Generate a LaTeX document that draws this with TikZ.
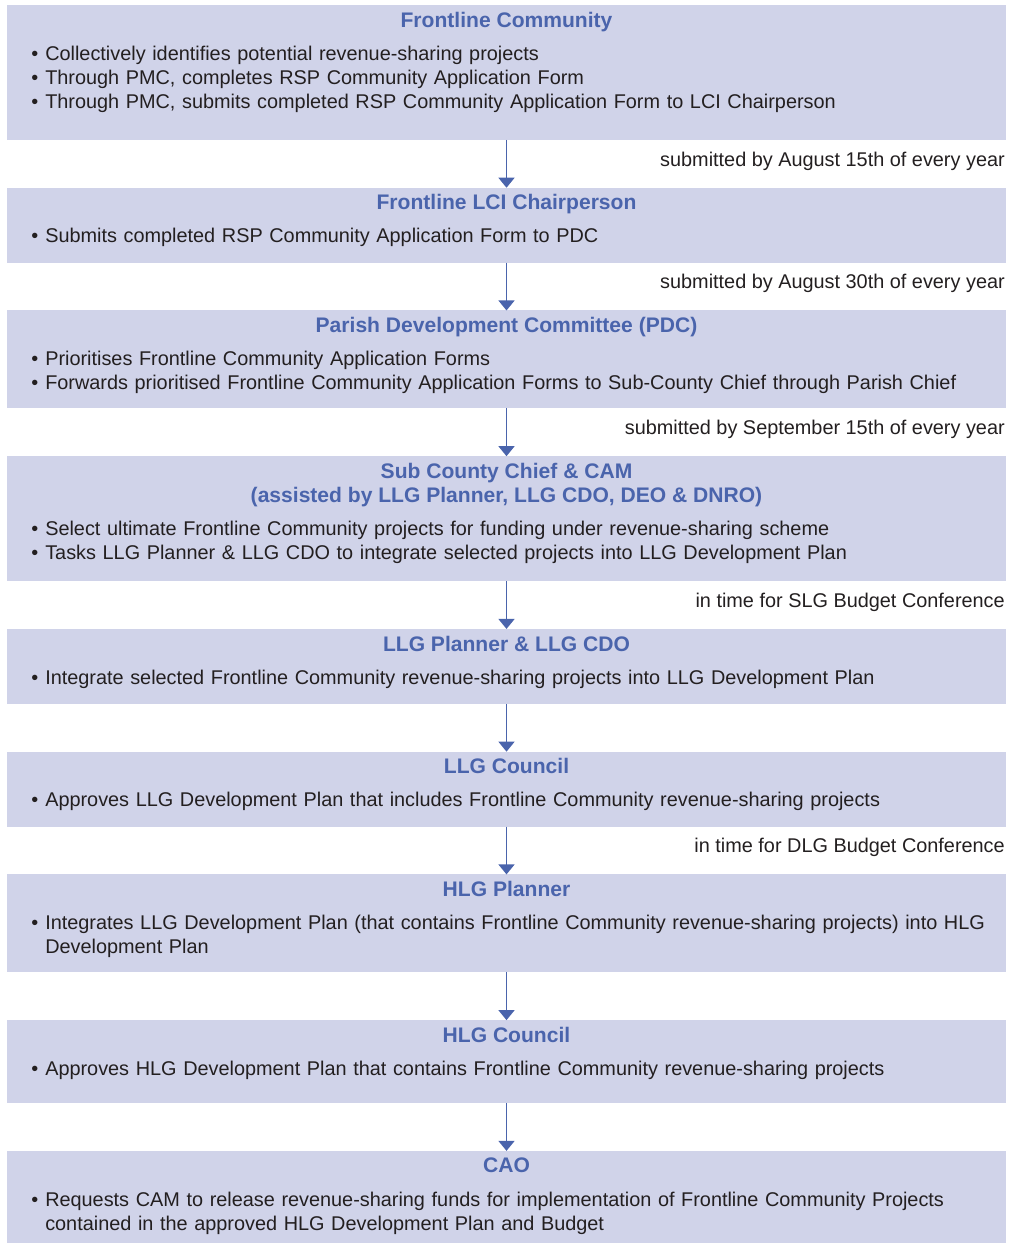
\documentclass[tikz,border=0pt]{standalone}
\usepackage{fontspec}
\setmainfont{Liberation Sans}
\usepackage{tikz}
\usetikzlibrary{arrows.meta, positioning}
\definecolor{StepFill}{HTML}{D0D3E9}
\definecolor{StepBlue}{HTML}{4A64AC}
\definecolor{BodyText}{HTML}{231F20}
\newcommand{\bul}[1]{\hangindent=10.5pt\hangafter=1\noindent\strut\makebox[10.5pt][l]{\textbullet}#1\strut\par}
\tikzset{
  stepbox/.style={rectangle, fill=StepFill, minimum width=749.25pt, inner sep=0pt, outer sep=0pt},
  steptitle/.style={anchor=north, inner sep=0pt, align=center, text=StepBlue, font=\fontsize{15.8}{18}\selectfont\bfseries},
  stepbody/.style={anchor=north west, inner sep=0pt, text width=740pt, align=left, text=BodyText, font=\fontsize{14.9}{18}\selectfont},
  steplabel/.style={anchor=east, inner sep=0pt, text=BodyText, font=\fontsize{14.9}{18}\selectfont},
  flowarrow/.style={-{Triangle[width=12pt, length=7.5pt]}, line width=1pt, StepBlue}
}

\begin{document}
\begin{tikzpicture}[node distance=35.8pt]
  \useasboundingbox (0,0) rectangle (762pt,-933pt);

  % boxes
  \node[stepbox, minimum height=101.25pt, anchor=north west] (community) at (5.25pt,-3.75pt) {};
  \node[stepbox, minimum height=56.25pt, below=of community] (chairperson) {};
  \node[stepbox, minimum height=73.5pt, below=of chairperson] (pdc) {};
  \node[stepbox, minimum height=93.75pt, below=of pdc] (subcounty) {};
  \node[stepbox, minimum height=56.25pt, below=of subcounty] (llgplanner) {};
  \node[stepbox, minimum height=56.25pt, below=of llgplanner] (llgcouncil) {};
  \node[stepbox, minimum height=73.5pt, below=of llgcouncil] (hlgplanner) {};
  \node[stepbox, minimum height=62.25pt, below=of hlgplanner] (hlgcouncil) {};
  \node[stepbox, minimum height=69pt, below=of hlgcouncil] (cao) {};

  % titles
  \node[steptitle] (communitytitle) at ([yshift=-3.75pt]community.north) {\strut Frontline Community};
  \node[steptitle] (chairpersontitle) at ([yshift=-3.75pt]chairperson.north) {\strut Frontline LCI Chairperson};
  \node[steptitle] (pdctitle) at ([yshift=-3.75pt]pdc.north) {\strut Parish Development Committee (PDC)};
  \node[steptitle] (subcountytitle) at ([yshift=-3.75pt]subcounty.north) {\strut Sub County Chief \& CAM\\\strut(assisted by LLG Planner, LLG CDO, DEO \& DNRO)};
  \node[steptitle] (llgplannertitle) at ([yshift=-3.75pt]llgplanner.north) {\strut LLG Planner \& LLG CDO};
  \node[steptitle] (llgcounciltitle) at ([yshift=-3.75pt]llgcouncil.north) {\strut LLG Council};
  \node[steptitle] (hlgplannertitle) at ([yshift=-3.75pt]hlgplanner.north) {\strut HLG Planner};
  \node[steptitle] (hlgcounciltitle) at ([yshift=-3.75pt]hlgcouncil.north) {\strut HLG Council};
  \node[steptitle] (caotitle) at ([yshift=-3.75pt]cao.north) {\strut CAO};

  % bullet texts
  \node[stepbody] (communitybody) at ([xshift=18pt, yshift=-6.4pt]community.west |- communitytitle.south) {%
    \bul{Collectively identifies potential revenue-sharing projects}
    \bul{Through PMC, completes RSP Community Application Form}
    \bul{Through PMC, submits completed RSP Community Application Form to LCI Chairperson}};
  \node[stepbody] (chairpersonbody) at ([xshift=18pt, yshift=-6.4pt]chairperson.west |- chairpersontitle.south) {%
    \bul{Submits completed RSP Community Application Form to PDC}};
  \node[stepbody] (pdcbody) at ([xshift=18pt, yshift=-6.4pt]pdc.west |- pdctitle.south) {%
    \bul{Prioritises Frontline Community Application Forms}
    \bul{Forwards prioritised Frontline Community Application Forms to Sub-County Chief through Parish Chief}};
  \node[stepbody] (subcountybody) at ([xshift=18pt, yshift=-6.4pt]subcounty.west |- subcountytitle.south) {%
    \bul{Select ultimate Frontline Community projects for funding under revenue-sharing scheme}
    \bul{Tasks LLG Planner \& LLG CDO to integrate selected projects into LLG Development Plan}};
  \node[stepbody] (llgplannerbody) at ([xshift=18pt, yshift=-6.4pt]llgplanner.west |- llgplannertitle.south) {%
    \bul{Integrate selected Frontline Community revenue-sharing projects into LLG Development Plan}};
  \node[stepbody] (llgcouncilbody) at ([xshift=18pt, yshift=-6.4pt]llgcouncil.west |- llgcounciltitle.south) {%
    \bul{Approves LLG Development Plan that includes Frontline Community revenue-sharing projects}};
  \node[stepbody] (hlgplannerbody) at ([xshift=18pt, yshift=-6.4pt]hlgplanner.west |- hlgplannertitle.south) {%
    \bul{Integrates LLG Development Plan (that contains Frontline Community revenue-sharing projects) into HLG\newline Development Plan}};
  \node[stepbody] (hlgcouncilbody) at ([xshift=18pt, yshift=-6.4pt]hlgcouncil.west |- hlgcounciltitle.south) {%
    \bul{Approves HLG Development Plan that contains Frontline Community revenue-sharing projects}};
  \node[stepbody] (caobody) at ([xshift=18pt, yshift=-6.4pt]cao.west |- caotitle.south) {%
    \bul{Requests CAM to release revenue-sharing funds for implementation of Frontline Community Projects\newline contained in the approved HLG Development Plan and Budget}};

  % deadlines
  \node[steplabel] (deadline1) at ([xshift=-0.75pt, yshift=-15.8pt]community.south east) {submitted by August 15th of every year};
  \node[steplabel] (deadline2) at ([xshift=-0.75pt, yshift=-15.8pt]chairperson.south east) {submitted by August 30th of every year};
  \node[steplabel] (deadline3) at ([xshift=-0.75pt, yshift=-15.8pt]pdc.south east) {submitted by September 15th of every year};
  \node[steplabel] (deadline4) at ([xshift=-0.75pt, yshift=-15.8pt]subcounty.south east) {in time for SLG Budget Conference};
  \node[steplabel] (deadline6) at ([xshift=-0.75pt, yshift=-15.8pt]llgcouncil.south east) {in time for DLG Budget Conference};

  % arrows
  \draw[flowarrow] (community) -- (chairperson);
  \draw[flowarrow] (chairperson) -- (pdc);
  \draw[flowarrow] (pdc) -- (subcounty);
  \draw[flowarrow] (subcounty) -- (llgplanner);
  \draw[flowarrow] (llgplanner) -- (llgcouncil);
  \draw[flowarrow] (llgcouncil) -- (hlgplanner);
  \draw[flowarrow] (hlgplanner) -- (hlgcouncil);
  \draw[flowarrow] (hlgcouncil) -- (cao);
\end{tikzpicture}
\end{document}
